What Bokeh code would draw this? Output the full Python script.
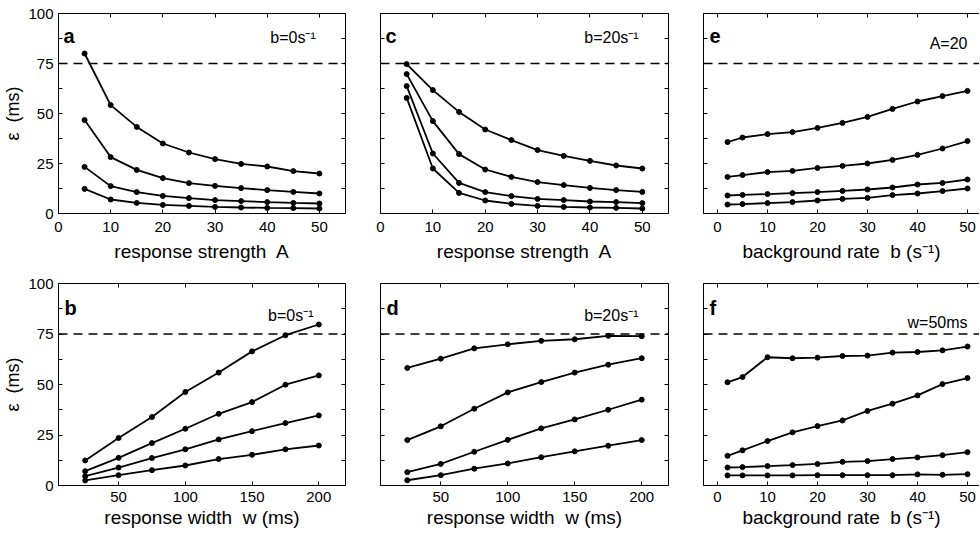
from bokeh.plotting import figure
from bokeh.models import Range1d, LinearAxis, FixedTicker, Span, Label
from bokeh.layouts import column, row
from bokeh.embed import file_html
from bokeh.resources import INLINE

FONT = "Liberation Sans"

# ---------------- data ----------------
A_vals = [5, 10, 15, 20, 25, 30, 35, 40, 45, 50]
w_vals = [25, 50, 75, 100, 125, 150, 175, 200]
b_vals = [2, 5, 10, 15, 20, 25, 30, 35, 40, 45, 50]

# panel a: b=0, series w=200,100,50,25
a_w200 = [80, 54.2, 43.3, 35, 30.5, 27.2, 24.8, 23.5, 21.2, 20]
a_w100 = [46.7, 28.2, 21.8, 17.7, 15.2, 13.8, 12.7, 11.7, 10.8, 10]
a_w50 = [23.3, 13.7, 10.7, 8.8, 7.7, 6.7, 6.2, 5.7, 5.3, 5]
a_w25 = [12.3, 7, 5.3, 4.3, 3.8, 3.3, 3, 2.8, 2.7, 2.5]

# panel b: b=0, series A=5,10,20,50
b_A5 = [12.4, 23.5, 33.9, 46.3, 55.9, 66.4, 74.4, 79.7]
b_A10 = [7.1, 13.7, 21, 28.1, 35.5, 41.3, 49.9, 54.5]
b_A20 = [4.6, 8.9, 13.6, 17.9, 22.8, 26.9, 30.9, 34.7]
b_A50 = [2.5, 5.1, 7.6, 9.9, 13.1, 15.2, 17.9, 19.8]

# panel c: b=20
c_w200 = [74.7, 61.7, 50.8, 42, 36.7, 31.7, 28.8, 26.3, 24, 22.5]
c_w100 = [69.7, 46.2, 29.7, 22, 18.3, 15.7, 14.2, 12.8, 11.7, 10.8]
c_w50 = [63.7, 30, 15.3, 10.7, 8.7, 7.3, 6.7, 6, 5.7, 5.2]
c_w25 = [57.8, 22.5, 10.3, 6.5, 4.8, 3.8, 3.3, 3, 2.8, 2.5]

# panel d: b=20
d_A5 = [58.2, 62.8, 67.9, 69.9, 71.6, 72.4, 74.1, 73.9]
d_A10 = [22.5, 29.3, 38, 46.1, 51.2, 55.9, 59.8, 63]
d_A20 = [6.6, 10.7, 16.7, 22.6, 28.3, 32.7, 37.5, 42.5]
d_A50 = [2.6, 5.1, 8.3, 10.9, 14, 16.9, 19.7, 22.5]

# panel e: A=20
e_w200 = [35.7, 38, 39.7, 40.7, 42.8, 45.3, 48.3, 52.3, 56, 58.7, 61.3]
e_w100 = [18.3, 19.2, 20.7, 21.3, 22.8, 23.8, 25, 26.8, 29.3, 32.5, 36.2]
e_w50 = [9, 9.3, 9.7, 10.2, 10.7, 11.3, 12, 13, 14.5, 15.3, 17]
e_w25 = [4.5, 4.7, 5.2, 5.7, 6.5, 7.3, 7.8, 9.2, 10, 11.2, 12.5]

# panel f: w=50
f_A5 = [51.1, 53.7, 63.5, 63, 63.3, 64.1, 64.3, 65.8, 66.1, 66.9, 68.8]
f_A10 = [14.7, 17.4, 22, 26.3, 29.4, 32.2, 36.9, 40.5, 44.6, 50.2, 53.2]
f_A20 = [8.9, 9.1, 9.6, 10.1, 10.7, 11.7, 12.1, 13.1, 13.9, 15, 16.5]
f_A50 = [5, 5, 5, 5, 5.1, 5.1, 5.1, 5.1, 5.5, 5.3, 5.6]

Y_TICKS = [0, 25, 50, 75, 100]
Y_MINOR = [12.5, 37.5, 62.5, 87.5]
A_TICKS = [0, 10, 20, 30, 40, 50]
W_TICKS = [50, 100, 150, 200]
B_TICKS = [0, 10, 20, 30, 40, 50]
THRESHOLD = 75

XLAB_A = "response strength\u00a0 A"
XLAB_W = "response width\u00a0 w (ms)"
XLAB_B = "background rate\u00a0 b (s\u207b\u00b9)"
YLAB = "\u03b5\u00a0 (ms)"


def style_axis(ax, tick_standoff=8, label_standoff=6, label_size="19px"):
    ax.axis_line_color = "black"
    ax.axis_line_width = 1
    ax.major_tick_in = 4
    ax.major_tick_out = 0
    ax.minor_tick_in = 4
    ax.minor_tick_out = 0
    ax.major_tick_line_color = "black"
    ax.minor_tick_line_color = "black"
    ax.major_label_text_font = FONT
    ax.major_label_text_color = "black"
    ax.major_label_text_font_size = "15px"
    ax.major_label_standoff = tick_standoff
    ax.axis_label_text_font = FONT
    ax.axis_label_text_font_style = "normal"
    ax.axis_label_text_font_size = label_size
    ax.axis_label_text_color = "black"
    ax.axis_label_standoff = label_standoff


def bare_axis(ticks):
    # frame edge with inward ticks only (all ticks as minor ticks: no labels)
    ax = LinearAxis(ticker=FixedTicker(ticks=[], minor_ticks=ticks))
    style_axis(ax, 0, 0)
    return ax


def panel(xr, xticks, xlabel, width, height, mbl, mbr, mbt, mbb, ylabels, right_axis,
          tick_standoff, label_standoff):
    p = figure(width=width, height=height, x_range=Range1d(*xr), y_range=Range1d(0, 100),
               x_axis_type=None, y_axis_type=None, output_backend="svg",
               toolbar_location=None, min_border_left=mbl, min_border_right=mbr,
               min_border_top=mbt, min_border_bottom=mbb)
    p.outline_line_color = None
    p.background_fill_color = "white"
    p.border_fill_color = "white"

    bx = LinearAxis(ticker=FixedTicker(ticks=xticks), axis_label=xlabel)
    style_axis(bx, tick_standoff, label_standoff)
    p.add_layout(bx, "below")
    p.add_layout(bare_axis(xticks), "above")
    if ylabels:
        ly = LinearAxis(ticker=FixedTicker(ticks=Y_TICKS, minor_ticks=Y_MINOR),
                        axis_label=YLAB)
        style_axis(ly, 5, 2, "18px")
        p.add_layout(ly, "left")
    else:
        p.add_layout(bare_axis(Y_TICKS + Y_MINOR), "left")
    if right_axis:
        p.add_layout(bare_axis(Y_TICKS + Y_MINOR), "right")

    p.add_layout(Span(location=THRESHOLD, dimension="width", line_color="black",
                      line_width=1.4, line_dash="9 6"))
    return p


def series(p, x, ys):
    for y in ys:
        p.line(x, y, line_color="black", line_width=1.8)
        p.scatter(x, y, size=5, color="black")


def letter(p, x, y, t):
    p.add_layout(Label(x=x, y=y, text=t, text_font=FONT, text_font_style="bold",
                       text_font_size="20px", text_align="left",
                       text_baseline="alphabetic", text_color="black"))


def note(p, x, y, t):
    p.add_layout(Label(x=x, y=y, text=t, text_font=FONT, text_font_size="16px",
                       text_align="right", text_baseline="alphabetic",
                       text_color="black"))


TOP_H, BOT_H = 272, 270
# top row: frame y 13..213 ; bottom row: frame y 283..485 (page pixels)
pa = panel((0, 55), A_TICKS, XLAB_A, 362, TOP_H, 57, 17, 13, 59, True, True, 8, 6)
series(pa, A_vals, [a_w200, a_w100, a_w50, a_w25])
letter(pa, 0.95, 89, "a")
note(pa, 49.3, 88, "b=0s\u207b\u00b9")

pc = panel((0, 55), A_TICKS, XLAB_A, 323, TOP_H, 18, 17, 13, 59, False, True, 8, 6)
series(pc, A_vals, [c_w200, c_w100, c_w50, c_w25])
letter(pc, 0.95, 89, "c")
note(pc, 49.3, 88, "b=20s\u207b\u00b9")

pe = panel((-2.8, 52.4), B_TICKS, XLAB_B, 294, TOP_H, 18, 0, 13, 59, False, False, 8, 6)
series(pe, b_vals, [e_w200, e_w100, e_w50, e_w25])
letter(pe, -1.6, 89, "e")
note(pe, 50, 85, "A=20")

pb = panel((5, 220), W_TICKS, XLAB_W, 362, BOT_H, 57, 17, 11, 57, True, True, 6, 2)
series(pb, w_vals, [b_A5, b_A10, b_A20, b_A50])
letter(pb, 9.5, 88, "b")
note(pb, 196, 84.2, "b=0s\u207b\u00b9")

pd = panel((5, 220), W_TICKS, XLAB_W, 323, BOT_H, 18, 17, 11, 57, False, True, 6, 2)
series(pd, w_vals, [d_A5, d_A10, d_A20, d_A50])
letter(pd, 9.5, 88, "d")
note(pd, 197.6, 84.2, "b=20s\u207b\u00b9")

pf = panel((-2.8, 52.4), B_TICKS, XLAB_B, 294, BOT_H, 18, 0, 11, 57, False, False, 6, 2)
series(pf, b_vals, [f_A5, f_A10, f_A20, f_A50])
letter(pf, -1.6, 88, "f")
note(pf, 50, 80.7, "w=50ms")

layout = column(row(pa, pc, pe), row(pb, pd, pf))

open("out.html", "w").write(file_html(layout, INLINE))
